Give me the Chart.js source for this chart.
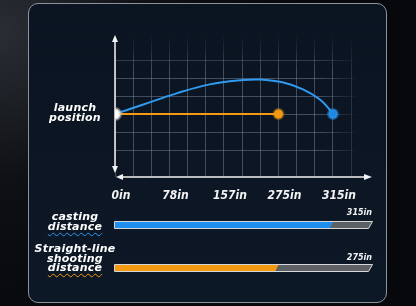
<!DOCTYPE html>
<html>
<head>
<meta charset="utf-8">
<script src="https://cdn.jsdelivr.net/npm/chart.js@4"></script>
<style>
  html, body { margin: 0; padding: 0; }
  body {
    width: 416px; height: 306px; position: relative; overflow: hidden;
    background: radial-gradient(circle at 0% 10%, #2a2e34 0, #0e1014 30%, #07080b 60%),
                #07080b;
    font-family: "DejaVu Sans", sans-serif;
  }
  .panel {
    position: absolute; left: 28px; top: 3px; width: 357px; height: 298px;
    border: 1px solid #8d939b; border-radius: 10px;
    background: linear-gradient(#0b1421, #0d1826);
  }
  canvas { position: absolute; left: 0; }
  #lineChart { top: 0; }
  #barChart { top: 200px; }
  .lbl {
    position: absolute; width: 100px; left: 25px; text-align: center;
    color: #fff; font-weight: bold; font-style: italic; font-size: 11px;
    line-height: 9.5px; letter-spacing: 0.2px;
  }
  .wavy-blue, .wavy-orange {
    text-decoration-line: underline; text-decoration-style: wavy;
    text-underline-offset: 2px; text-decoration-thickness: 1.25px;
  }
  .wavy-blue { text-decoration-color: #2f9bf0; }
  .wavy-orange { text-decoration-color: #f39a12; }
</style>
</head>
<body>
<div class="panel"></div>
<canvas id="lineChart" width="416" height="210"></canvas>
<canvas id="barChart" width="416" height="90"></canvas>
<div class="lbl" style="top:103px">launch<br>position</div>
<div class="lbl" style="top:212px">casting<br><span class="wavy-blue">distance</span></div>
<div class="lbl" style="top:244px">Straight-line<br>shooting<br><span class="wavy-orange">distance</span></div>
<script>
// x positions are in grid cells (3 cells between labelled ticks)
const distanceLabels = ["0in", "78in", "157in", "275in", "315in"];
const labelCells = [0, 3, 6, 9, 12];
const arcX = [0, 1.56, 3.39, 5.22, 7.05, 7.98, 9.27, 10.35, 11.28, 11.82, 12];
const arcY = [0, 0.53, 1.15, 1.65, 1.89, 1.92, 1.75, 1.37, 0.81, 0.25, 0];
const straightX = [0, 9];
const straightY = [0, 0];
const barCategories = ["casting distance", "Straight-line shooting distance"];
const barValues = [12, 9];
const barValueLabels = ["315in", "275in"];

const X_MAX = 14.15;
const BLUE = "#2f9bf0";
const ORANGE = "#f39a12";
const TICK_FONT = { family: "'DejaVu Sans Condensed', 'DejaVu Sans'", size: 12, weight: "bold", style: "italic" };

Chart.defaults.font.family = "'DejaVu Sans'";

function pts(xs, ys) {
  return xs.map((x, i) => ({ x: x, y: ys[i] }));
}

function gridRGBA(a) {
  return "rgba(110,125,145," + a + ")";
}

// vertical lines fade toward the top and the right
function vGridColor(ctx) {
  const chart = ctx.chart;
  const area = chart.chartArea;
  if (!area || ctx.tick === undefined) return "transparent";
  const v = ctx.tick.value;
  let a = 0.55;
  if (v > 12.5) a = v > 13.5 ? (v > 14.05 ? 0 : 0.1) : 0.28;
  const g = chart.ctx.createLinearGradient(0, area.top, 0, area.bottom);
  g.addColorStop(0, gridRGBA(0));
  g.addColorStop(0.1, gridRGBA(a * 0.35));
  g.addColorStop(0.25, gridRGBA(a));
  g.addColorStop(1, gridRGBA(a));
  return g;
}

// horizontal lines fade toward the right
function hGridColor(ctx) {
  const chart = ctx.chart;
  const area = chart.chartArea;
  if (!area || ctx.tick === undefined) return "transparent";
  const v = ctx.tick.value;
  if (Math.abs(v - Math.round(v)) > 1e-6) return "transparent";
  const a = v >= 4 ? 0.1 : v >= 3 ? 0.38 : 0.55;
  const g = chart.ctx.createLinearGradient(area.left, 0, area.right, 0);
  g.addColorStop(0, gridRGBA(a));
  g.addColorStop(0.8, gridRGBA(a));
  g.addColorStop(0.95, gridRGBA(0));
  g.addColorStop(1, gridRGBA(0));
  return g;
}

const arrowAxes = {
  id: "arrowAxes",
  beforeDatasetsDraw(chart) {
    const { ctx, chartArea: a } = chart;
    const x0 = a.left, yb = a.bottom;
    ctx.save();
    ctx.strokeStyle = "#f4f4f4";
    ctx.fillStyle = "#f4f4f4";
    ctx.lineWidth = 1.5;
    // y axis
    ctx.beginPath();
    ctx.moveTo(x0, a.top + 4);
    ctx.lineTo(x0, yb - 6);
    ctx.stroke();
    ctx.beginPath();
    ctx.moveTo(x0, a.top + 1); ctx.lineTo(x0 - 3, a.top + 8); ctx.lineTo(x0 + 3, a.top + 8);
    ctx.closePath(); ctx.fill();
    ctx.beginPath();
    ctx.moveTo(x0, yb - 4); ctx.lineTo(x0 - 3, yb - 11); ctx.lineTo(x0 + 3, yb - 11);
    ctx.closePath(); ctx.fill();
    // x axis
    ctx.beginPath();
    ctx.moveTo(x0 + 4, yb);
    ctx.lineTo(a.right - 4, yb);
    ctx.stroke();
    ctx.beginPath();
    ctx.moveTo(x0 + 1, yb); ctx.lineTo(x0 + 8, yb - 3); ctx.lineTo(x0 + 8, yb + 3);
    ctx.closePath(); ctx.fill();
    ctx.beginPath();
    ctx.moveTo(a.right, yb); ctx.lineTo(a.right - 8, yb - 3); ctx.lineTo(a.right - 8, yb + 3);
    ctx.closePath(); ctx.fill();
    ctx.restore();
  }
};

new Chart(document.getElementById("lineChart"), {
  type: "scatter",
  data: {
    datasets: [
      {
        label: "Straight-line shooting distance",
        data: pts(straightX, straightY),
        showLine: true,
        borderColor: ORANGE,
        borderWidth: 2,
        pointRadius: [0, 4.5],
        pointBackgroundColor: ORANGE,
        pointBorderColor: "rgba(243,154,18,0.4)",
        pointBorderWidth: 3,
        order: 2
      },
      {
        label: "casting distance",
        data: pts(arcX, arcY),
        showLine: true,
        tension: 0.4,
        borderColor: BLUE,
        borderWidth: 2,
        pointRadius: arcX.map((x, i) => (i === arcX.length - 1 ? 4.5 : 0)),
        pointBackgroundColor: "#1e88e5",
        pointBorderColor: "rgba(47,155,240,0.45)",
        pointBorderWidth: 3,
        order: 1
      },
      {
        label: "launch position",
        data: [{ x: 0, y: 0 }],
        pointRadius: 5.5,
        pointBackgroundColor: "#ffffff",
        pointBorderColor: "rgba(190,190,190,0.55)",
        pointBorderWidth: 3,
        order: 0
      }
    ]
  },
  options: {
    responsive: false,
    animation: false,
    events: [],
    layout: { padding: { left: 115, right: 44, top: 34, bottom: 0 } },
    plugins: { legend: { display: false }, tooltip: { enabled: false } },
    scales: {
      x: {
        type: "linear",
        min: 0,
        max: X_MAX,
        afterFit: (axis) => { axis.height = 33; },
        border: { display: false },
        grid: { color: vGridColor, lineWidth: 1, drawTicks: false, tickLength: 0 },
        ticks: {
          stepSize: 1,
          autoSkip: false,
          maxRotation: 0,
          padding: 12,
          labelOffset: 6,
          color: "#f2f2f2",
          font: TICK_FONT,
          callback: (v) => {
            const i = labelCells.indexOf(v);
            return i >= 0 ? distanceLabels[i] : "";
          }
        }
      },
      y: {
        type: "linear",
        min: -3.5,
        max: 4.45,
        afterFit: (axis) => { axis.width = 0; },
        border: { display: false },
        grid: { color: hGridColor, lineWidth: 1, drawTicks: false },
        ticks: { display: false, stepSize: 1 }
      }
    }
  },
  plugins: [arrowAxes]
});

// slanted progress bars drawn from the bar elements
const slantBars = {
  id: "slantBars",
  beforeDatasetsDraw(chart) {
    const ctx = chart.ctx;
    const track = chart.getDatasetMeta(0).data;
    const fill = chart.getDatasetMeta(1).data;
    const fillColors = chart.data.datasets[1].backgroundColor;
    const s = 3;
    ctx.save();
    track.forEach((el, i) => {
      const h = el.height, top = el.y - h / 2, bot = el.y + h / 2;
      // track
      ctx.beginPath();
      ctx.moveTo(el.base, top); ctx.lineTo(el.x, top);
      ctx.lineTo(el.x - s, bot); ctx.lineTo(el.base, bot);
      ctx.closePath();
      ctx.fillStyle = "#5d6065";
      ctx.fill();
      // fill
      const f = fill[i];
      ctx.beginPath();
      ctx.moveTo(f.base, top); ctx.lineTo(f.x, top);
      ctx.lineTo(f.x - s, bot); ctx.lineTo(f.base, bot);
      ctx.closePath();
      ctx.fillStyle = fillColors[i];
      ctx.fill();
      // outline
      ctx.beginPath();
      ctx.moveTo(el.base - 0.5, top - 0.5); ctx.lineTo(el.x + 0.5, top - 0.5);
      ctx.lineTo(el.x - s - 0.5, bot + 0.5); ctx.lineTo(el.base - 0.5, bot + 0.5);
      ctx.closePath();
      ctx.strokeStyle = "rgba(235,235,235,0.9)";
      ctx.lineWidth = 1;
      ctx.stroke();
      // value label
      ctx.fillStyle = "#f2f2f2";
      ctx.font = "italic bold 8px 'DejaVu Sans'";
      ctx.textAlign = "right";
      ctx.textBaseline = "middle";
      ctx.fillText(barValueLabels[i], el.x, el.y - (i === 0 ? 12 : 10.5));
    });
    ctx.restore();
    return false;
  }
};

new Chart(document.getElementById("barChart"), {
  type: "bar",
  data: {
    labels: barCategories,
    datasets: [
      {
        label: "track",
        data: barCategories.map(() => X_MAX),
        backgroundColor: "#5d6065",
        barThickness: 6,
        grouped: false
      },
      {
        label: "distance",
        data: barValues,
        backgroundColor: ["#1e8fee", ORANGE],
        barThickness: 6,
        grouped: false
      }
    ]
  },
  options: {
    indexAxis: "y",
    responsive: false,
    animation: false,
    events: [],
    layout: { padding: { left: 115, right: 44, top: 3.5, bottom: 0.5 } },
    plugins: { legend: { display: false }, tooltip: { enabled: false } },
    scales: {
      x: { type: "linear", min: 0, max: X_MAX, display: false },
      y: { display: false }
    }
  },
  plugins: [slantBars]
});
</script>
</body>
</html>
